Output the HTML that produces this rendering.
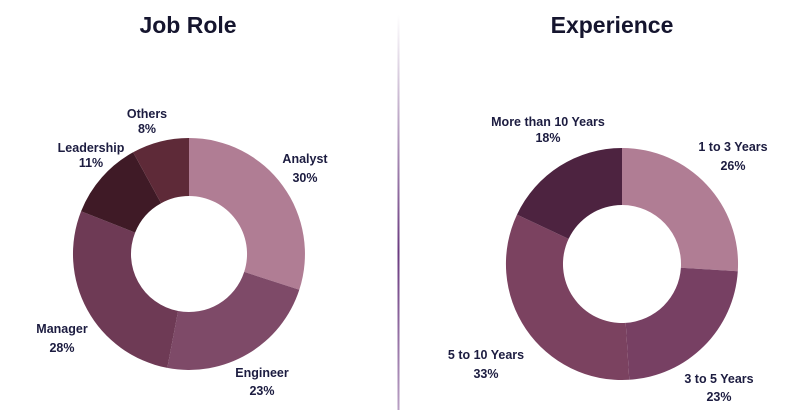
<!DOCTYPE html>
<html><head><meta charset="utf-8"><style>
html,body{margin:0;padding:0;background:#fff;}
svg{display:block;font-family:"Liberation Sans",sans-serif;}
.t{font-size:23px;font-weight:bold;fill:#15152e;}
.l{font-size:12.5px;font-weight:bold;fill:#1c1c40;}
</style></head><body>
<svg width="787" height="418" viewBox="0 0 787 418">
<defs><linearGradient id="g" x1="0" y1="0" x2="0" y2="1">
<stop offset="0" stop-color="#fff"/><stop offset="0.6" stop-color="#6a3a80"/><stop offset="1" stop-color="#b9a0c4"/></linearGradient></defs>
<rect x="397.5" y="15" width="2" height="395" fill="url(#g)"/>
<text class="t" x="188" y="33" text-anchor="middle">Job Role</text>
<text class="t" x="612" y="33" text-anchor="middle">Experience</text>
<g stroke="none">
<path fill="#b07d94" d="M189,138 A116,116 0 0 1 299.3,289.8 L244.2,271.9 A58,58 0 0 0 189,196 Z"/>
<path fill="#7e4a68" d="M299.3,289.8 A116,116 0 0 1 167.3,367.9 L178.1,311.0 A58,58 0 0 0 244.2,271.9 Z"/>
<path fill="#6e3a55" d="M167.3,367.9 A116,116 0 0 1 81.1,211.3 L135.1,232.6 A58,58 0 0 0 178.1,311.0 Z"/>
<path fill="#3f1a26" d="M81.1,211.3 A116,116 0 0 1 133.1,152.3 L161.1,203.2 A58,58 0 0 0 135.1,232.6 Z"/>
<path fill="#5e2a38" d="M133.1,152.3 A116,116 0 0 1 189,138 L189,196 A58,58 0 0 0 161.1,203.2 Z"/>

<path fill="#b07d94" d="M622,148 A116,116 0 0 1 737.8,271.3 L680.9,267.7 A59,59 0 0 0 622,205 Z"/>
<path fill="#774063" d="M737.8,271.3 A116,116 0 0 1 629.3,379.8 L625.7,322.9 A59,59 0 0 0 680.9,267.7 Z"/>
<path fill="#7b4260" d="M629.3,379.8 A116,116 0 0 1 517.0,214.6 L568.6,238.9 A59,59 0 0 0 625.7,322.9 Z"/>
<path fill="#4d2340" d="M517.0,214.6 A116,116 0 0 1 622,148 L622,205 A59,59 0 0 0 568.6,238.9 Z"/>
</g>
<g class="l" text-anchor="middle">
<text x="147" y="118">Others</text><text x="147" y="133">8%</text>
<text x="91" y="152">Leadership</text><text x="91" y="167">11%</text>
<text x="305" y="163">Analyst</text><text x="305" y="182">30%</text>
<text x="62" y="333">Manager</text><text x="62" y="352">28%</text>
<text x="262" y="377">Engineer</text><text x="262" y="395">23%</text>
<text x="548" y="126">More than 10 Years</text><text x="548" y="142">18%</text>
<text x="733" y="151">1 to 3 Years</text><text x="733" y="170">26%</text>
<text x="486" y="359">5 to 10 Years</text><text x="486" y="378">33%</text>
<text x="719" y="383">3 to 5 Years</text><text x="719" y="401">23%</text>
</g>
</svg>
</body></html>
